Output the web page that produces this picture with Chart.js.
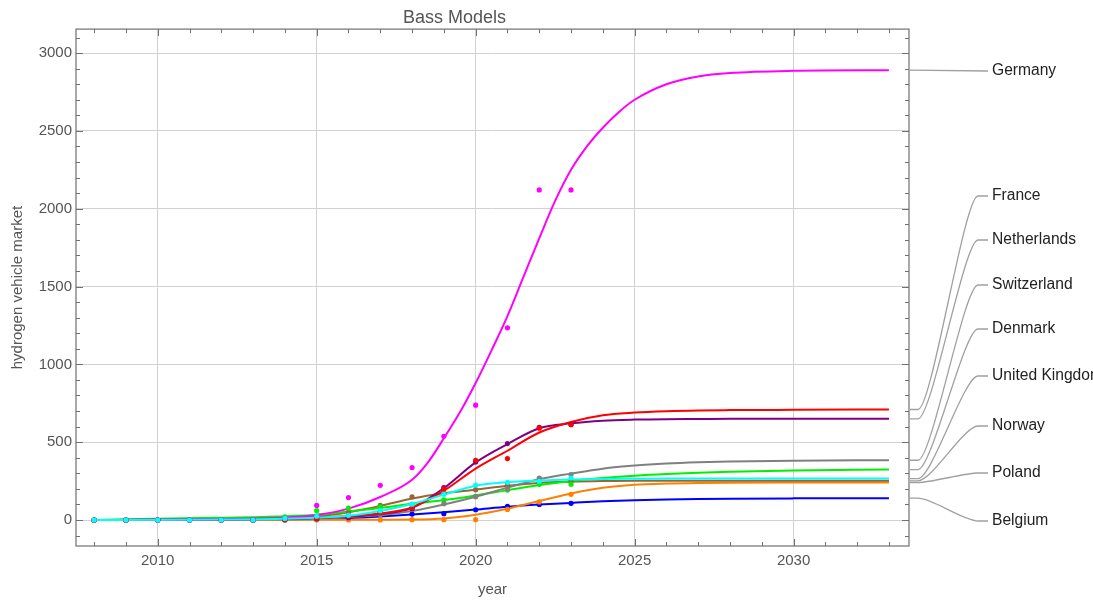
<!DOCTYPE html>
<html>
<head>
<meta charset="utf-8">
<script src="https://cdn.jsdelivr.net/npm/chart.js@4.4.1/dist/chart.umd.min.js"></script>
<style>
  body { margin: 0; background: #fff; }
  #wrap { width: 1093px; height: 602px; }
</style>
</head>
<body>
<div id="wrap"><canvas id="chart" width="1093" height="602"></canvas></div>
<script>
const curveYears = [2008, 2010, 2012, 2014, 2015, 2016, 2017, 2018, 2019, 2020, 2021, 2022, 2023, 2024, 2025, 2026, 2027, 2028, 2030, 2033];
const germanyYears = [2008, 2010, 2012, 2014, 2015, 2016, 2017, 2018, 2018.5, 2019, 2019.5, 2020, 2020.5, 2021, 2021.5, 2022, 2022.5, 2023, 2023.5, 2024, 2024.5, 2025, 2026, 2027, 2028, 2030, 2033];
// years of the observed data points
const pointYears = [2008, 2009, 2010, 2011, 2012, 2013, 2014, 2015, 2016, 2017, 2018, 2019, 2020, 2021, 2022, 2023];

const countries = ['Germany', 'France', 'Netherlands', 'Switzerland', 'Denmark', 'United Kingdom', 'Norway', 'Poland', 'Belgium'];

// fitted curves
const germanyCurve     = [0, 2, 6, 15, 32, 73, 148, 258, 370, 525, 690, 880, 1090, 1310, 1560, 1810, 2050, 2250, 2400, 2520, 2620, 2700, 2800, 2850, 2872, 2886, 2890];
const franceCurve      = [0, 1, 3, 9, 15, 25, 42, 80, 188, 330, 445, 562, 630, 673, 690, 699, 704, 706, 708, 710];
const netherlandsCurve = [0, 1, 3, 8, 13, 22, 38, 78, 205, 370, 488, 590, 621, 638, 645, 648, 649, 650, 650, 650];
const switzerlandCurve = [0, 1, 3, 6, 10, 18, 32, 58, 100, 150, 208, 262, 298, 330, 350, 363, 371, 376, 381, 384];
const denmarkCurve     = [0, 8, 14, 24, 34, 55, 77, 104, 128, 158, 192, 225, 251, 270, 285, 296, 304, 310, 318, 324];
const ukCurve          = [0, 1, 3, 8, 15, 28, 58, 103, 163, 220, 243, 254, 261, 264, 265, 266, 266, 266, 266, 266];
const norwayCurve      = [0, 1, 3, 10, 22, 50, 90, 138, 172, 195, 220, 238, 246, 250, 252, 252, 252, 252, 252, 252];
const polandCurve      = [0, 0, 0, 1, 1, 1, 2, 3, 10, 34, 72, 122, 170, 207, 226, 234, 238, 240, 241, 241];
const belgiumCurve     = [0, 0, 1, 3, 6, 12, 22, 35, 50, 67, 85, 99, 110, 120, 127, 132, 135, 137, 139, 140];

// observed values
const germanyPts     = [0, 0, 0, 0, 0, 2, 12, 94, 144, 223, 337, 538, 738, 1235, 2121, 2121];
const francePts      = [0, 0, 0, 0, 0, 1, 4, 12, 25, 45, 78, 200, 384, 395, 590, 612];
const netherlandsPts = [0, 0, 0, 0, 0, 0, 3, 8, 15, 51, 73, 208, 373, 491, 596, 615];
const switzerlandPts = [0, 0, 0, 0, 0, 0, 2, 6, 20, 35, 68, 105, 150, 199, 270, 292];
const denmarkPts     = [0, 0, 0, 0, 0, 2, 20, 60, 77, 85, 100, 130, 152, 192, 229, 229];
const ukPts          = [0, 0, 0, 0, 0, 0, 10, 24, 30, 60, 102, 165, 225, 242, 249, 270];
const norwayPts      = [0, 0, 0, 0, 0, 0, 5, 20, 50, 94, 148, 172, 195, 222, 240, 248];
const polandPts      = [0, 0, 0, 0, 0, 0, 0, 0, 0, 0, 2, 2, 2, 68, 116, 165];
const belgiumPts     = [0, 0, 0, 0, 0, 0, 0, 4, 10, 36, 38, 41, 66, 87, 100, 107];

const yTicks = [0, 500, 1000, 1500, 2000, 2500, 3000];
const xTicks = [2010, 2015, 2020, 2025, 2030];

const curves = [germanyCurve, franceCurve, netherlandsCurve, switzerlandCurve, denmarkCurve, ukCurve, norwayCurve, polandCurve, belgiumCurve];
const curveXs = [germanyYears, curveYears, curveYears, curveYears, curveYears, curveYears, curveYears, curveYears, curveYears];
const points = [germanyPts, francePts, netherlandsPts, switzerlandPts, denmarkPts, ukPts, norwayPts, polandPts, belgiumPts];
const colors = ['#ff00ff', '#ff0000', '#800080', '#808080', '#00f000', '#00ffff', '#996633', '#ff8000', '#0000ff'];
// pixel rows of the callout labels on the right
const labelRows = [71, 196, 240, 285, 329, 376, 426, 473, 521];

// first dataset ends up on top in Chart.js, so list in reverse draw order
const drawOrder = [5, 0, 1, 2, 3, 4, 6, 7, 8];

const datasets = [];
drawOrder.forEach(i => {
    datasets.push({
        label: countries[i] + ' data',
        data: pointYears.map((yr, k) => ({ x: yr, y: points[i][k] })),
        showLine: false,
        pointRadius: 2.6,
        pointBorderWidth: 0,
        pointBackgroundColor: colors[i],
        borderColor: colors[i]
    });
});
drawOrder.forEach(i => {
    datasets.push({
        label: countries[i],
        data: curveXs[i].map((yr, k) => ({ x: yr, y: curves[i][k] })),
        borderColor: colors[i],
        borderWidth: 2,
        pointRadius: 0,
        cubicInterpolationMode: 'monotone',
        fill: false
    });
});

const frame = {
    id: 'frame',
    afterDraw(chart) {
        const { ctx, chartArea: a, scales: { x, y } } = chart;
        ctx.save();
        ctx.strokeStyle = '#707070';
        ctx.lineWidth = 1.2;
        ctx.strokeRect(a.left, a.top, a.right - a.left, a.bottom - a.top);
        ctx.lineWidth = 1;
        ctx.beginPath();
        for (let yr = 2008; yr <= 2033; yr++) {
            const px = Math.round(x.getPixelForValue(yr)) + 0.5;
            const len = yr % 5 === 0 ? 7 : 4;
            ctx.moveTo(px, a.bottom); ctx.lineTo(px, a.bottom - len);
            ctx.moveTo(px, a.top); ctx.lineTo(px, a.top + len);
        }
        for (let v = -100; v <= 3100; v += 100) {
            const py = Math.round(y.getPixelForValue(v)) + 0.5;
            const len = v % 500 === 0 ? 7 : 4;
            ctx.moveTo(a.left, py); ctx.lineTo(a.left + len, py);
            ctx.moveTo(a.right, py); ctx.lineTo(a.right - len, py);
        }
        ctx.stroke();
        ctx.restore();
    }
};

const callouts = {
    id: 'callouts',
    afterDraw(chart) {
        const { ctx, chartArea: a, scales: { y } } = chart;
        ctx.save();
        ctx.strokeStyle = '#a0a0a0';
        ctx.lineWidth = 1.3;
        ctx.fillStyle = '#222';
        ctx.font = '15.6px "Liberation Sans", Arial, sans-serif';
        ctx.textBaseline = 'middle';
        countries.forEach((name, i) => {
            const y0 = y.getPixelForValue(curves[i][curves[i].length - 1]);
            const y1 = labelRows[i];
            const x0 = a.right + 1, x1 = a.right + 9, x2 = 978, x3 = 988;
            ctx.beginPath();
            ctx.moveTo(x0, y0);
            if (Math.abs(y1 - y0) < 3) {
                ctx.lineTo(x3, y1);
            } else {
                ctx.lineTo(x1, y0);
                ctx.bezierCurveTo(x1 + 14, y0, x2 - 14, y1, x2, y1);
                ctx.lineTo(x3, y1);
            }
            ctx.stroke();
            ctx.fillText(name, 992, y1);
        });
        ctx.restore();
    }
};

const labelFont = { family: '"Liberation Sans", Arial, sans-serif', size: 15 };

new Chart(document.getElementById('chart'), {
    type: 'line',
    data: { datasets },
    plugins: [frame, callouts],
    options: {
        responsive: false,
        animation: false,
        layout: { padding: { left: 0, right: 184, top: 0, bottom: 0 } },
        plugins: {
            legend: { display: false },
            tooltip: { enabled: false },
            title: {
                display: true,
                text: 'Bass Models',
                color: '#555',
                font: { family: '"Liberation Sans", Arial, sans-serif', size: 18, weight: 'normal' },
                padding: { top: 7, bottom: 0.5 }
            }
        },
        scales: {
            x: {
                type: 'linear',
                min: 2007.43,
                max: 2033.63,
                afterBuildTicks: s => { s.ticks = xTicks.map(v => ({ value: v })); },
                afterFit: s => { s.height = 56; },
                grid: { color: '#d2d2d2', lineWidth: 1, drawTicks: false },
                border: { display: false },
                ticks: {
                    color: '#555',
                    font: labelFont,
                    padding: 6,
                    maxRotation: 0,
                    callback: v => String(v)
                },
                title: {
                    display: true,
                    text: 'year',
                    color: '#555',
                    font: labelFont,
                    padding: { top: 0, bottom: 3 }
                }
            },
            y: {
                type: 'linear',
                min: -167,
                max: 3154,
                afterBuildTicks: s => { s.ticks = yTicks.map(v => ({ value: v })); },
                afterFit: s => { s.width = 76; },
                grid: { color: '#d2d2d2', lineWidth: 1, drawTicks: false },
                border: { display: false },
                ticks: {
                    color: '#555',
                    font: labelFont,
                    padding: 4,
                    callback: v => String(v)
                },
                title: {
                    display: true,
                    text: 'hydrogen vehicle market',
                    color: '#555',
                    font: labelFont,
                    padding: { top: 9, bottom: 0 }
                }
            }
        }
    }
});
</script>
</body>
</html>
